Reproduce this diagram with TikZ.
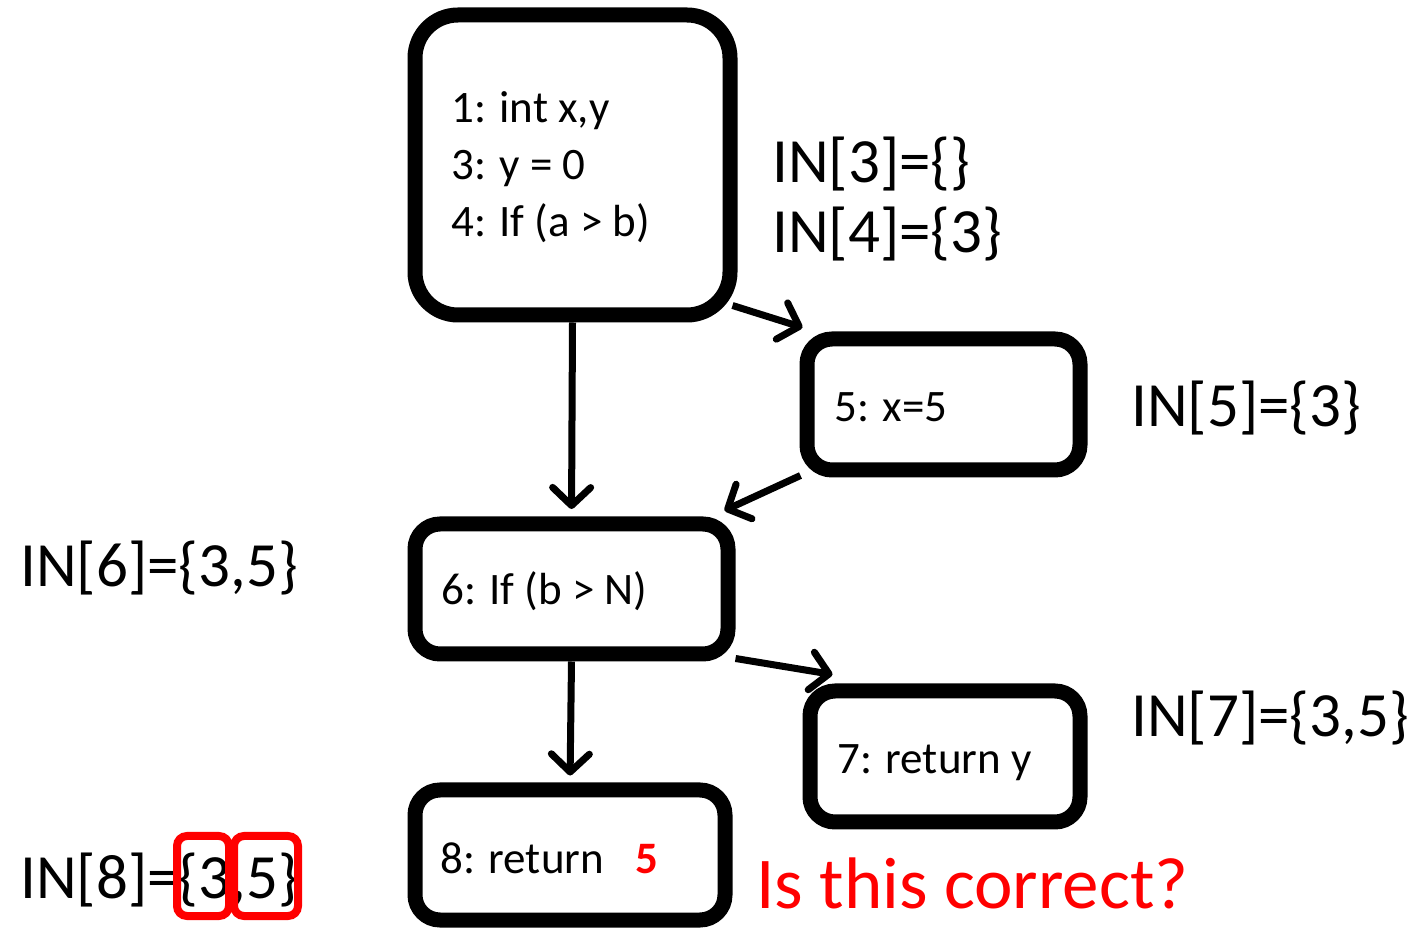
\documentclass[tikz,border=0pt]{standalone}
\usepackage{fontspec}
\setmainfont{Carlito}
\usetikzlibrary{arrows.meta,calc}
\tikzset{
  cfgbox/.style={draw=black, line width=15pt, inner sep=0pt, rounded corners=25pt},
  codetext/.style={anchor=base west, inner sep=0pt, font=\fontsize{45}{54}\selectfont},
  intext/.style={anchor=base west, inner sep=0pt, font=\fontsize{63}{75}\selectfont},
  qtext/.style={anchor=base west, inner sep=0pt, text=red, font=\fontsize{73}{88}\selectfont},
  flow/.style={line width=7pt, -{Straight Barb[length=18pt,width=38pt,round]}},
  redbox/.style={draw=red, line width=8pt, rounded corners=10pt, inner sep=0pt, minimum height=80pt}
}
\begin{document}
\begin{tikzpicture}[x=1pt,y=1pt]
\useasboundingbox (0,0) rectangle (1417,927);
% boxes
\node[cfgbox, rounded corners=43pt, minimum width=315pt, minimum height=300pt] (b1) at (572.5,762) {};
\node[cfgbox, minimum width=273pt, minimum height=131pt] (b5) at (943.5,522.5) {};
\node[cfgbox, minimum width=313pt, minimum height=130pt] (b6) at (571.5,338) {};
\node[cfgbox, minimum width=270pt, minimum height=131pt] (b7) at (945,170.5) {};
\node[cfgbox, minimum width=310pt, minimum height=130pt] (b8) at (570,72) {};
% code texts
\node[codetext] (t1) at (451,804) {1: int x,y};
\node[codetext] (t3) at (451,747) {3: y = 0};
\node[codetext] (t4) at (451,690) {4: If (a > b)};
\node[codetext] (t5) at (834,505) {5: x=5};
\node[codetext] (t6) at (441,322) {6: If (b > N)};
\node[codetext] (t7) at (837,153) {7: return y};
\node[codetext] (t8) at (440,54) {8: return\hspace{0.7em}\textcolor{red}{\textbf{5}}};
% IN labels
\node[intext] (in3) at (772,744) {IN[3]=\{\}};
\node[intext] (in4) at (772,674) {IN[4]=\{3\}};
\node[intext] (in5) at (1131,500) {IN[5]=\{3\}};
\node[intext] (in6) at (20,340) {IN[6]=\{3,5\}};
\node[intext] (in7) at (1131,190) {IN[7]=\{3,5\}};
\node[intext] (in8) at (20,29) {IN[8]=\{3,5\}};
\node[qtext] (q) at (756,19) {Is this correct?};
% red highlight boxes
\node[redbox, minimum width=52pt] (r1) at (203,51) {};
\node[redbox, minimum width=64pt] (r2) at (266,51) {};
% connectors
\draw[flow, shorten >=7.5pt] (b1.south) -- (b6.north);
\draw[flow] ($(b1.south east)+(-5,17)$) -- ($(b5.north west)+(3,4)$);
\draw[flow] ($(b5.south west)+(1,2)$) -- ($(b6.north east)+(-11,6)$);
\draw[flow, shorten >=7pt] (b6.south) -- (b8.north);
\draw[flow] ($(b6.south east)+(0,3)$) -- ($(b7.north west)+(30,9)$);
\end{tikzpicture}
\end{document}
